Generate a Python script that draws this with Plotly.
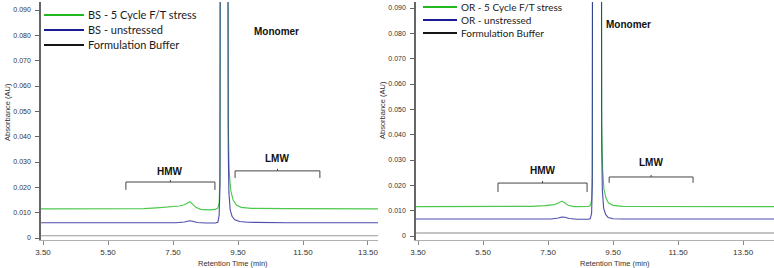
import plotly.graph_objects as go

# ---------------- data ----------------
# Left panel: BS
bs_stress_t = [3.44, 5.00, 6.00, 6.60, 7.00, 7.40, 7.70, 7.85, 7.95, 8.02, 8.10, 8.20, 8.35, 8.60, 8.80,
               8.88, 8.92, 8.945, 8.96, 9.07, 9.18, 9.20, 9.23, 9.28, 9.35, 9.45, 9.60, 9.90, 11.0, 13.81]
bs_stress_a = [0.0115, 0.0115, 0.0115, 0.0116, 0.0119, 0.0123, 0.0126, 0.0131, 0.0139, 0.0143, 0.0134,
               0.0121, 0.0113, 0.0111, 0.0113, 0.0118, 0.0140, 0.0250, 0.2000, 0.6000, 0.2000, 0.0450,
               0.0260, 0.0185, 0.0150, 0.0130, 0.0121, 0.0117, 0.0116, 0.0115]
bs_un_t = [3.44, 6.00, 7.60, 7.85, 7.95, 8.02, 8.10, 8.25, 8.50, 8.80, 8.88, 8.92, 8.945, 8.96, 9.07,
           9.18, 9.20, 9.22, 9.26, 9.32, 9.40, 9.55, 9.80, 11.0, 13.81]
bs_un_a = [0.0060, 0.0060, 0.0060, 0.0063, 0.0067, 0.0068, 0.0066, 0.0061, 0.0059, 0.0059, 0.0062,
           0.0090, 0.0200, 0.2000, 0.6000, 0.2000, 0.0350, 0.0180, 0.0110, 0.0085, 0.0072, 0.0065,
           0.0062, 0.0060, 0.0060]
bs_buf_t = [3.44, 6.00, 9.00, 11.0, 13.81]
bs_buf_a = [0.0009, 0.0009, 0.0009, 0.0009, 0.0009]

# Right panel: OR
or_stress_t = [3.44, 5.00, 6.50, 7.00, 7.40, 7.70, 7.83, 7.93, 8.02, 8.12, 8.30, 8.60, 8.75, 8.80,
               8.84, 8.86, 8.875, 9.00, 9.135, 9.15, 9.18, 9.22, 9.28, 9.36, 9.50, 9.80, 11.0, 14.45]
or_stress_a = [0.0116, 0.0116, 0.0116, 0.0117, 0.0120, 0.0124, 0.0131, 0.0138, 0.0130, 0.0121, 0.0116,
               0.0115, 0.0117, 0.0122, 0.0140, 0.0250, 0.2000, 0.6000, 0.2000, 0.0450, 0.0260, 0.0185,
               0.0150, 0.0130, 0.0121, 0.0117, 0.0116, 0.0116]
or_un_t = [3.44, 6.00, 7.60, 7.82, 7.92, 8.02, 8.15, 8.40, 8.75, 8.80, 8.84, 8.86, 8.875, 9.00, 9.135,
           9.15, 9.17, 9.21, 9.27, 9.35, 9.50, 9.80, 11.0, 14.45]
or_un_a = [0.0067, 0.0067, 0.0067, 0.0071, 0.0075, 0.0074, 0.0069, 0.0066, 0.0066, 0.0069, 0.0090,
           0.0200, 0.2000, 0.6000, 0.2000, 0.0350, 0.0180, 0.0110, 0.0085, 0.0073, 0.0068, 0.0067,
           0.0067, 0.0067]
or_buf_t = [3.44, 6.00, 9.00, 11.0, 14.45]
or_buf_a = [0.0012, 0.0012, 0.0012, 0.0012, 0.0012]

# axis ticks
x_ticks = [3.5, 5.5, 7.5, 9.5, 11.5, 13.5]
x_tick_labels = ["3.50", "5.50", "7.50", "9.50", "11.50", "13.50"]
y_ticks = [0, 0.01, 0.02, 0.03, 0.04, 0.05, 0.06, 0.07, 0.08, 0.09]
y_tick_labels = ["0", "0.010", "0.020", "0.030", "0.040", "0.050", "0.060", "0.070", "0.080", "0.090"]

bs_names = ["BS - 5 Cycle F/T stress", "BS - unstressed", "Formulation Buffer"]
or_names = ["OR - 5 Cycle F/T stress", "OR - unstressed", "Formulation Buffer"]

# region brackets: (start, end, level, drop, label, label level)
bs_brackets = [(6.05, 8.79, 0.0221, 0.0031, "HMW", 0.0262),
               (9.41, 12.02, 0.0265, 0.0028, "LMW", 0.0312)]
or_brackets = [(5.96, 8.70, 0.0209, 0.0035, "HMW", 0.0258),
               (9.38, 11.96, 0.0233, 0.0023, "LMW", 0.0290)]
monomer_pos = [(10.67, 0.0815), (9.96, 0.0835)]

W, H = 774, 268
LINE_COLS = ["#4cc84c", "#2e2e9e", "#9a9a9a"]
LEG_COLS = ["#22b822", "#1c1c96", "#151515"]

fig = go.Figure()

def add_panel(xa, ya, names, series, buf_color):
    cols = [LINE_COLS[0], LINE_COLS[1], buf_color]
    ops = [1.0, 0.85, 1.0]
    for (t, a), name, c, op in zip(series, names, cols, ops):
        fig.add_trace(go.Scatter(x=t, y=a, mode="lines", name=name, xaxis=xa, yaxis=ya, opacity=op,
                                 line=dict(color=c, width=1.1), showlegend=False, hoverinfo="skip"))

add_panel("x", "y", bs_names,
          [(bs_stress_t, bs_stress_a), (bs_un_t, bs_un_a), (bs_buf_t, bs_buf_a)], "#9a9a9a")
add_panel("x2", "y2", or_names,
          [(or_stress_t, or_stress_a), (or_un_t, or_un_a), (or_buf_t, or_buf_a)], "#8a8a8a")

shapes = []
annotations = []
for (xr, yr, brs, mono) in [("x", "y", bs_brackets, monomer_pos[0]), ("x2", "y2", or_brackets, monomer_pos[1])]:
    for (x0, x1, lv, dr, lab, ly) in brs:
        xm = (x0 + x1) / 2
        path = f"M{x0},{lv - dr} L{x0},{lv} L{x1},{lv} L{x1},{lv - dr} M{xm},{lv} L{xm},{lv + 0.0008}"
        shapes.append(dict(type="path", path=path, xref=xr, yref=yr,
                           line=dict(color="#444444", width=1)))
        annotations.append(dict(x=xm, y=ly, xref=xr, yref=yr, text=f"<b>{lab}</b>", showarrow=False,
                                font=dict(family="Liberation Sans", size=10, color="#111111")))
    annotations.append(dict(x=mono[0], y=mono[1], xref=xr, yref=yr, text="<b>Monomer</b>", showarrow=False,
                            font=dict(family="Liberation Sans", size=10, color="#111111")))

# legends (key lines + labels), placed in pixel positions of the reference
def add_legend(names, x0, x1, xt, rows, size):
    for name, c, yy in zip(names, LEG_COLS, rows):
        shapes.append(dict(type="line", xref="paper", yref="paper", x0=x0 / W, x1=x1 / W,
                           y0=1 - yy / H, y1=1 - yy / H, line=dict(color=c, width=2)))
        annotations.append(dict(x=xt / W, y=1 - yy / H, xref="paper", yref="paper", text=name,
                                showarrow=False, xanchor="left", yanchor="middle",
                                font=dict(family="Lato", size=size, color="#1a1a1a")))

add_legend(bs_names, 44, 84, 86, [15, 30, 45], 11)
add_legend(or_names, 423, 457, 459, [7, 20, 33], 10)

# axis titles
title_font = dict(family="Liberation Sans", size=7.5, color="#333333")
annotations += [
    dict(x=233 / W, y=1 - 263 / H, xref="paper", yref="paper", text="Retention Time (min)", showarrow=False,
         xanchor="center", yanchor="middle", font=title_font),
    dict(x=615 / W, y=1 - 263 / H, xref="paper", yref="paper", text="Retention Time (min)", showarrow=False,
         xanchor="center", yanchor="middle", font=title_font),
    dict(x=7 / W, y=1 - 112 / H, xref="paper", yref="paper", text="Absorbance (AU)", showarrow=False,
         xanchor="center", yanchor="middle", textangle=-90, font=title_font),
    dict(x=383 / W, y=1 - 110 / H, xref="paper", yref="paper", text="Absorbance (AU)", showarrow=False,
         xanchor="center", yanchor="middle", textangle=-90, font=title_font),
]

ydom = [1 - 240 / H, 1 - 2 / H]
common_x = dict(tickvals=x_ticks, ticktext=x_tick_labels, ticks="outside", ticklen=4, tickcolor="#888888",
                showline=True, linecolor="#b0b0b0", linewidth=1, showgrid=False, zeroline=False,
                automargin=False,
                tickfont=dict(family="Liberation Sans", size=8, color="#333333"), fixedrange=True)
common_y = dict(tickvals=y_ticks, ticktext=y_tick_labels, ticks="outside", ticklen=4, tickcolor="#666666",
                showline=True, linecolor="#666666", linewidth=1.5, showgrid=False, zeroline=False,
                automargin=False, ticklabelstandoff=3,
                tickfont=dict(family="Liberation Sans", size=7, color="#333333"), domain=ydom,
                fixedrange=True)

fig.update_layout(
    width=W, height=H, margin=dict(l=0, r=0, t=0, b=0, pad=0),
    paper_bgcolor="white", plot_bgcolor="white",
    xaxis=dict(domain=[41 / W, 378 / W], range=[3.438, 13.808], anchor="y", **common_x),
    yaxis=dict(range=[-2 / 2533, 236 / 2533], anchor="x", **common_y),
    xaxis2=dict(domain=[416 / W, 1.0], range=[3.438, 14.45], anchor="y2", **common_x),
    yaxis2=dict(range=[-4 / 2533, 234 / 2533], anchor="x2", **common_y),
    shapes=shapes, annotations=annotations, showlegend=False,
)

fig.write_html("out.html", config={"displayModeBar": False},
               post_script="document.body.style.margin='0';document.body.style.overflow='hidden';")
